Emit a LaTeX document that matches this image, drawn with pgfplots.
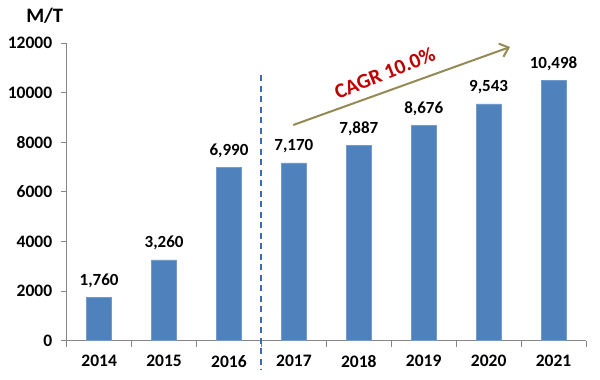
\documentclass[border=0pt]{standalone}
\usepackage{pgfplots}
\pgfplotsset{compat=1.18}
\usepackage{fontspec}
\setmainfont{Carlito}
\usetikzlibrary{arrows.meta}
\definecolor{barblue}{HTML}{4F81BD}
\definecolor{dashblue}{HTML}{3A6BB3}
\definecolor{olive}{HTML}{948A54}
\definecolor{cagrred}{HTML}{C00000}
\definecolor{axgray}{HTML}{868686}
\begin{document}
\begin{tikzpicture}
\begin{axis}[
  scale only axis,
  width=519.3pt, height=297.7pt,
  xmin=-0.5, xmax=7.5,
  ymin=0, ymax=12000,
  scaled y ticks=false,
  axis x line*=bottom, axis y line*=left,
  axis line style={axgray, line width=0.8pt},
  clip=false,
  xtick={0,...,7},
  xticklabels={2014,2015,2016,2017,2018,2019,2020,2021},
  major x tick style={draw=none},
  minor xtick={-0.5,0.5,...,7.5},
  minor x tick style={axgray, line width=0.8pt},
  minor tick length=6pt,
  ytick={0,2000,...,12000},
  y tick style={axgray, line width=0.8pt},
  major tick length=6pt,
  tick align=outside,
  /pgf/number format/assume math mode=true,
  /pgf/number format/fixed,
  /pgf/number format/precision=0,
  /pgf/number format/1000 sep={,},
  xticklabel style={font=\bfseries\fontsize{17.5}{17.5}\selectfont, yshift=-5pt},
  yticklabel style={font=\bfseries\fontsize{17.5}{17.5}\selectfont, xshift=-5pt, /pgf/number format/1000 sep={}},
]
\addplot[ybar, bar width=25pt, fill=barblue, draw=barblue!80!white,
  nodes near coords,
  nodes near coords style={font=\bfseries\fontsize{17}{17}\selectfont, anchor=base, yshift=12pt, inner sep=0pt}]
 coordinates {
(0,1760) (1,3260) (2,6990) (3,7170) (4,7887) (5,8676) (6,9543) (7,10498)};
\addplot[dashblue, line width=2pt, dash pattern=on 6pt off 4.5pt, mark=none, forget plot]
 coordinates {(2.5,10710) (2.5,-1181)};
\addplot[olive, line width=2pt, mark=none, -{Straight Barb[length=8pt,width=14pt]}, forget plot]
 coordinates {(2.99,8695) (6.33,11839)};
\node[font=\bfseries\fontsize{21}{21}\selectfont, text=cagrred, rotate=22] at (axis cs:4.40,10800) {CAGR 10.0\%};
\node[font=\bfseries\fontsize{20.5}{20.5}\selectfont] at (rel axis cs:0,1) [xshift=-22pt, yshift=27pt] {M/T};
\end{axis}
\pgfresetboundingbox
\path[use as bounding box] (-66.7pt,-39.3pt) rectangle (533.3pt,340.7pt);
\end{tikzpicture}
\end{document}
